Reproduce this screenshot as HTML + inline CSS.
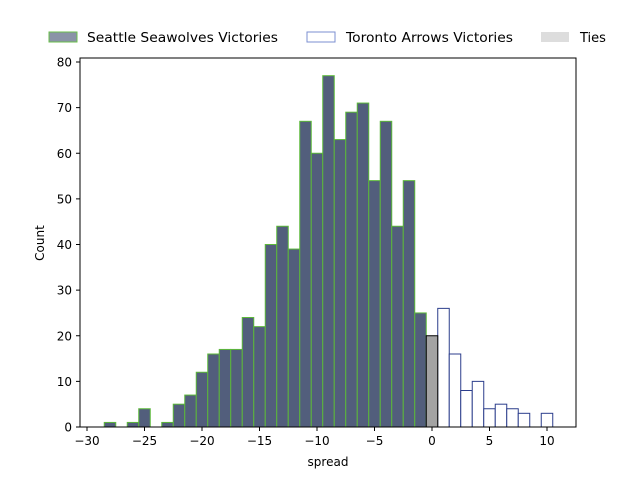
<!DOCTYPE html>
<html><head><meta charset="utf-8"><style>
body{margin:0;background:#fff;font-family:"Liberation Sans","DejaVu Sans",sans-serif;}
svg text{font-family:"DejaVu Sans","Liberation Sans",sans-serif;}
</style></head><body>
<svg id="chart" width="640" height="480" xmlns="http://www.w3.org/2000/svg">
<rect width="640" height="480" fill="#fff"/>
<g id="bars"></g>
<rect x="80" y="58" width="496" height="369" fill="none" stroke="#000" stroke-width="1"/>
<g id="axes"></g>
<text x="328" y="466" font-size="12" text-anchor="middle">spread</text>
<text x="44" y="243" font-size="12" text-anchor="middle" transform="rotate(-90 44 243)">Count</text>
<g>
<g><rect x="49" y="32" width="28" height="10" fill="#8a93a7" stroke="#6abf4b"/><text x="87" y="42" font-size="13" textLength="191" lengthAdjust="spacingAndGlyphs">Seattle Seawolves Victories</text></g>
<g><rect x="307" y="32" width="28" height="10" fill="#fff" stroke="#7b8fd0"/><text x="346" y="42" font-size="13" textLength="167" lengthAdjust="spacingAndGlyphs">Toronto Arrows Victories</text></g>
<g><rect x="541" y="32" width="28" height="10" fill="#ddd"/><text x="580" y="42" font-size="13">Ties</text></g>
</g>
</svg>
<script>
const seattleSpreads=[-28,-27,-26,-25,-24,-23,-22,-21,-20,-19,-18,-17,-16,-15,-14,-13,-12,-11,-10,-9,-8,-7,-6,-5,-4,-3,-2,-1];
const seattleCounts=[1,0,1,4,0,1,5,7,12,16,17,17,24,22,40,44,39,67,60,77,63,69,71,54,67,44,54,25];
const tieSpreads=[0];
const tieCounts=[20];
const torontoSpreads=[1,2,3,4,5,6,7,8,9,10];
const torontoCounts=[26,16,8,10,4,5,4,3,0,3];
const xTicks=[-30,-25,-20,-15,-10,-5,0,5,10];
const yTicks=[0,10,20,30,40,50,60,70,80];
const NS="http://www.w3.org/2000/svg";
function xs(v){return 87+(v+30)*11.5;}
function ys(v){return 427-v*4.5625;}
const bars=document.getElementById('bars');
function draw(sp,ct,fill,stroke,name){
 sp.forEach((s,i)=>{
  if(ct[i]<=0)return;
  const r=document.createElementNS(NS,'rect');
  const x0=xs(s-0.5),x1=xs(s+0.5);
  r.setAttribute('x',x0);r.setAttribute('y',ys(ct[i]));
  r.setAttribute('width',x1-x0);r.setAttribute('height',ys(0)-ys(ct[i]));
  r.setAttribute('fill',fill);r.setAttribute('stroke',stroke);
  
  
  bars.appendChild(r);
 });
}
draw(seattleSpreads,seattleCounts,'#525e7c','#5cb83a','seattle');
draw(torontoSpreads,torontoCounts,'#fff','#2c3e8c','toronto');
draw(tieSpreads,tieCounts,'#a3a3a3','#000','tie');
const ax=document.getElementById('axes');
xTicks.forEach(t=>{
 const l=document.createElementNS(NS,'line');
 l.setAttribute('x1',xs(t));l.setAttribute('x2',xs(t));l.setAttribute('y1',427);l.setAttribute('y2',431);l.setAttribute('stroke','#000');
 
 
 ax.appendChild(l);
 const tx=document.createElementNS(NS,'text');
 tx.setAttribute('x',xs(t));tx.setAttribute('y',445);tx.setAttribute('font-size','12');tx.setAttribute('text-anchor','middle');
 tx.textContent=t<0?'\u2212'+Math.abs(t):String(t);
 
 
 ax.appendChild(tx);
});
yTicks.forEach(t=>{
 const l=document.createElementNS(NS,'line');
 l.setAttribute('x1',76);l.setAttribute('x2',80);l.setAttribute('y1',ys(t));l.setAttribute('y2',ys(t));l.setAttribute('stroke','#000');
 
 
 ax.appendChild(l);
 const tx=document.createElementNS(NS,'text');
 tx.setAttribute('x',72);tx.setAttribute('y',ys(t)+4.5);tx.setAttribute('font-size','12');tx.setAttribute('text-anchor','end');
 tx.textContent=String(t);
 
 
 ax.appendChild(tx);
});
</script>
</body></html>
